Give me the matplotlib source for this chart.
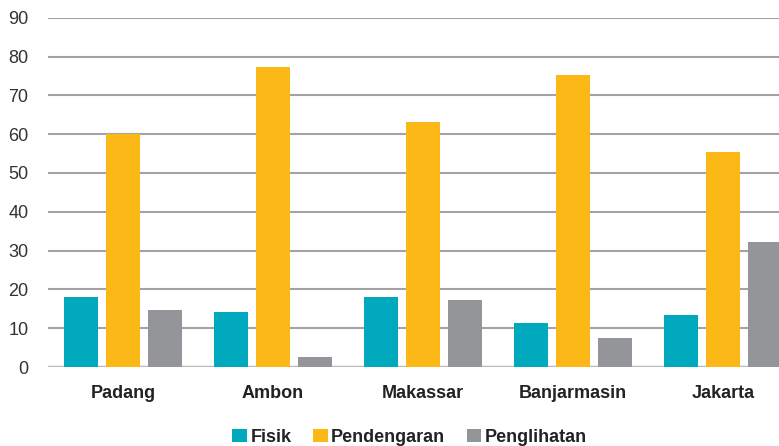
import numpy as np
import matplotlib
matplotlib.use('Agg')
import matplotlib.pyplot as plt
from matplotlib.patches import Patch

cities = ['Padang', 'Ambon', 'Makassar', 'Banjarmasin', 'Jakarta']
fisik = [18.0, 14.2, 18.0, 11.3, 13.4]
pendengaran = [60.1, 77.3, 63.1, 75.2, 55.4]
penglihatan = [14.7, 2.6, 17.3, 7.5, 32.2]
series_names = ['Fisik', 'Pendengaran', 'Penglihatan']
colors = ['#00A9BD', '#FBB817', '#949599']

plt.rcParams['font.family'] = ['Liberation Sans', 'DejaVu Sans']

fig = plt.figure(figsize=(7.79, 4.46), dpi=100)
# axes runs past the right edge of the figure, like the cropped original
ax = fig.add_axes([48 / 779, 79 / 446, 750 / 779, 349.3 / 446])

x = np.arange(len(cities))
w = 0.233
off = 0.28
for i, (vals, c) in enumerate(zip([fisik, pendengaran, penglihatan], colors)):
    ax.bar(x + (i - 1) * off, vals, width=w, color=c, zorder=3)

ax.set_xlim(-0.5, len(cities) - 0.5)
ax.set_ylim(0, 90)
ax.set_yticks(range(0, 91, 10))
ax.yaxis.grid(True, color='#a3a3a3', linewidth=1.5, zorder=0)
ax.axhline(0, color='#bdbdbd', linewidth=2.5, zorder=2)
for s in ax.spines.values():
    s.set_visible(False)
ax.tick_params(axis='both', length=0)
ax.tick_params(axis='y', pad=14, labelsize=13, labelcolor='#333333')
ax.set_xticks(x)
ax.set_xticklabels(cities, fontsize=13, fontweight='bold', color='#222222')
ax.tick_params(axis='x', pad=13)

handles = [Patch(facecolor=c, edgecolor='none') for c in colors]
leg = fig.legend(handles, series_names, loc='center', bbox_to_anchor=(0.526, 0.02),
                 ncol=3, frameon=False, handlelength=0.8, handleheight=0.75,
                 handletextpad=0.2, columnspacing=1.2,
                 prop={'size': 13, 'weight': 'bold'})
for t in leg.get_texts():
    t.set_color('#222222')

plt.savefig('out.png', dpi=100)
